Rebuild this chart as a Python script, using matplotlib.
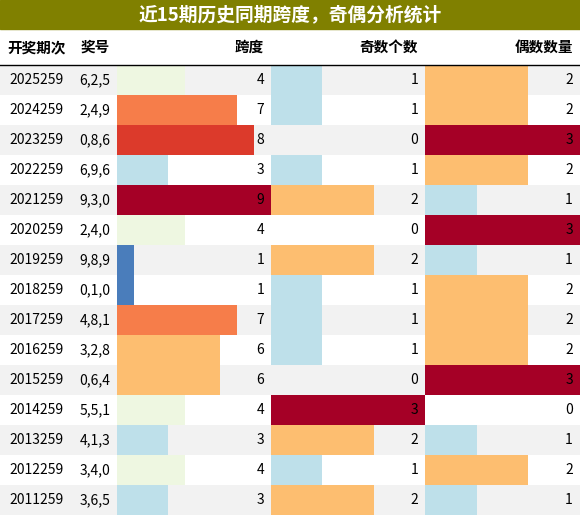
import matplotlib
matplotlib.use("Agg")
import matplotlib.pyplot as plt
from matplotlib.patches import Rectangle

plt.rcParams['font.family'] = ['Noto Sans CJK SC', 'DejaVu Sans']

title = "近15期历史同期跨度，奇偶分析统计"
headers = ["开奖期次", "奖号", "跨度", "奇数个数", "偶数数量"]
issues = ["2025259", "2024259", "2023259", "2022259", "2021259", "2020259", "2019259",
          "2018259", "2017259", "2016259", "2015259", "2014259", "2013259", "2012259", "2011259"]
numbers = ["6,2,5", "2,4,9", "0,8,6", "6,9,6", "9,3,0", "2,4,0", "9,8,9",
           "0,1,0", "4,8,1", "3,2,8", "0,6,4", "5,5,1", "4,1,3", "3,4,0", "3,6,5"]
span = [4, 7, 8, 3, 9, 4, 1, 1, 7, 6, 6, 4, 3, 4, 3]
odd = [1, 1, 0, 1, 2, 0, 2, 1, 1, 1, 0, 3, 2, 1, 2]
even = [2, 2, 3, 2, 1, 3, 1, 2, 2, 2, 3, 0, 1, 2, 1]

span_colors = {1: "#4a7dbb", 3: "#bee0ea", 4: "#eef7e1", 6: "#fdbe70",
               7: "#f67d4a", 8: "#dc3a2b", 9: "#a50026"}
cnt_colors = {1: "#bee0ea", 2: "#fdbe70", 3: "#a50026"}

W, H = 580, 516
fig = plt.figure(figsize=(5.8, 5.16), dpi=100)
ax = fig.add_axes([0, 0, 1, 1])
ax.set_xlim(0, W)
ax.set_ylim(H, 0)
ax.axis("off")

# title bar
ax.add_patch(Rectangle((0, 0), W, 29, color="#808000"))
ax.text(W / 2, 15, title, color="white", fontsize=13.5, fontweight="bold", ha="center", va="center")

col_x = [0, 73, 117, 271, 425, 580]
head_y = 47
ax.text(37, head_y, headers[0], fontsize=10.5, fontweight="bold", ha="center", va="center")
ax.text(95, head_y, headers[1], fontsize=10.5, fontweight="bold", ha="center", va="center")
for i in range(2, 5):
    ax.text(col_x[i + 1] - 7, head_y, headers[i], fontsize=10.5, fontweight="bold", ha="right", va="center")
ax.plot([0, W], [64.5, 64.5], color="black", lw=1)

top, rh = 65, 30
for r in range(len(issues)):
    y = top + r * rh
    if r % 2 == 0:
        ax.add_patch(Rectangle((0, y), W, rh, color="#f2f2f2", lw=0))
    # bars
    cw = col_x[3] - col_x[2]
    if span[r] > 0:
        ax.add_patch(Rectangle((col_x[2], y), cw * span[r] / 9, rh, color=span_colors[span[r]], lw=0))
    for vals, c in ((odd, 3), (even, 4)):
        v = vals[r]
        w = col_x[c + 1] - col_x[c]
        if v > 0:
            ax.add_patch(Rectangle((col_x[c], y), w * v / 3, rh, color=cnt_colors[v], lw=0))
    yc = y + rh / 2
    ax.text(37, yc, issues[r], fontsize=10, ha="center", va="center")
    ax.text(95, yc, numbers[r], fontsize=10, ha="center", va="center")
    ax.text(col_x[3] - 7, yc, str(span[r]), fontsize=10, ha="right", va="center")
    ax.text(col_x[4] - 7, yc, str(odd[r]), fontsize=10, ha="right", va="center")
    ax.text(col_x[5] - 7, yc, str(even[r]), fontsize=10, ha="right", va="center")

fig.savefig("out.png", dpi=100)
